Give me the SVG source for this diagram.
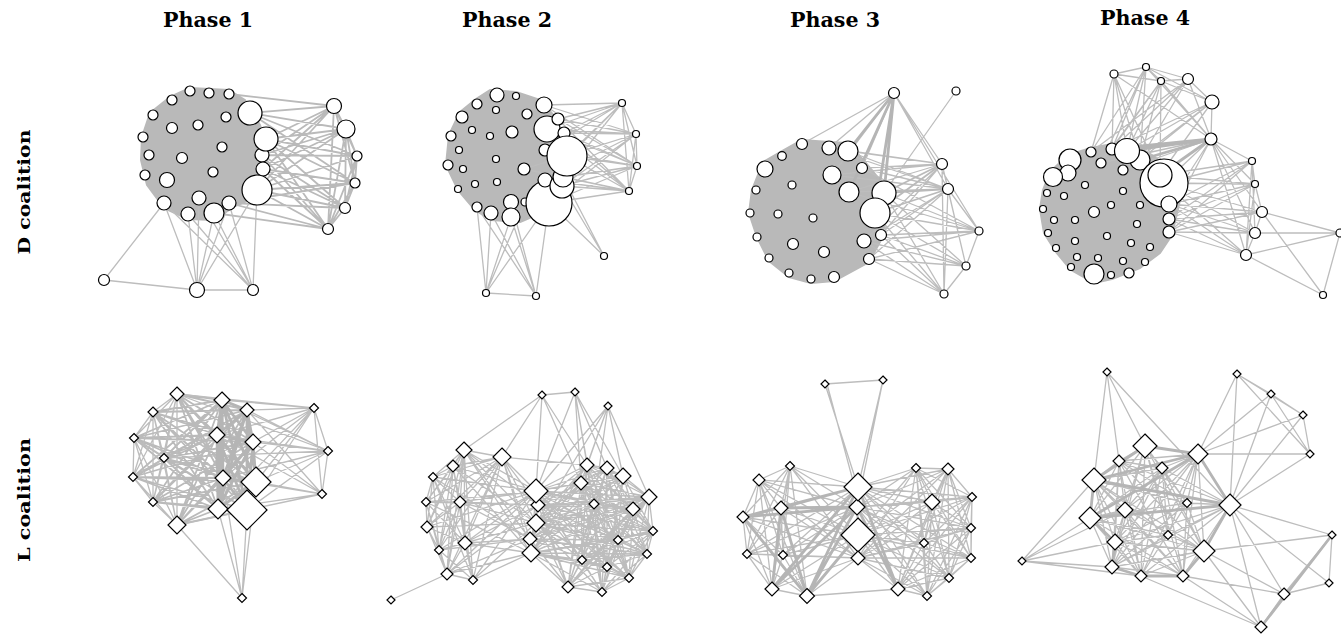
<svg xmlns="http://www.w3.org/2000/svg" width="1341" height="634" viewBox="0 0 1341 634">
<style>
.e{fill:none;stroke:#bdbdbd;stroke-width:1.3;stroke-linecap:round}
.m{fill:none;stroke:#bababa;stroke-width:1.8;stroke-linecap:round}
.t{fill:none;stroke:#b5b5b5;stroke-width:2.8;stroke-linecap:round}
.cl{fill:#b9b9b9;stroke:#b9b9b9;stroke-width:2;stroke-linejoin:round}
.n circle,.n polygon{fill:#fff;stroke:#000;stroke-width:1.2}
.h{font-family:"DejaVu Serif",serif;font-weight:bold;fill:#000}
</style>
<rect width="1341" height="634" fill="#fff"/>
<g id="labels">
<text class="h" x="208" y="27" font-size="20" text-anchor="middle" textLength="90" lengthAdjust="spacingAndGlyphs">Phase 1</text>
<text class="h" x="507" y="27" font-size="20" text-anchor="middle" textLength="90" lengthAdjust="spacingAndGlyphs">Phase 2</text>
<text class="h" x="835" y="27" font-size="20" text-anchor="middle" textLength="90" lengthAdjust="spacingAndGlyphs">Phase 3</text>
<text class="h" x="1145" y="25" font-size="20" text-anchor="middle" textLength="90" lengthAdjust="spacingAndGlyphs">Phase 4</text>
<text class="h" transform="translate(30 192) rotate(-90)" font-size="17" text-anchor="middle" textLength="125" lengthAdjust="spacingAndGlyphs">D coalition</text>
<text class="h" transform="translate(30 500) rotate(-90)" font-size="17" text-anchor="middle" textLength="124" lengthAdjust="spacingAndGlyphs">L coalition</text>
</g>
<g id="connectors">
<!-- D phase 1 -->
<polygon class="cl" points="190,88 229,90 245,100 260,125 268,150 266,172 262,195 235,206 214,220 188,219 164,208 147,185 141,160 142,137 150,113 170,97"/>
<path class="m" d="M250 113L334 106M250 113L346 129M250 113L357 156M250 113L355 183M266 139L334 106M266 139L346 129M266 139L357 156M266 139L355 183M266 139L345 208M266 139L328 229M262 155L334 106M262 155L346 129M262 155L357 156M262 155L345 208M262 155L328 229M263 169L334 106M263 169L346 129M263 169L355 183M263 169L345 208M263 169L328 229M257 190L334 106M257 190L346 129M257 190L357 156M257 190L355 183M257 190L345 208M257 190L328 229M229 203L345 208M229 203L328 229M229 203L355 183M214 213L328 229M229 94L334 106M334 106L346 129M334 106L357 156M334 106L355 183M334 106L328 229M346 129L357 156M346 129L355 183M346 129L345 208M346 129L328 229M357 156L355 183M357 156L345 208M357 156L328 229M355 183L345 208M355 183L328 229M345 208L328 229"/>
<path class="e" d="M104 280L164 203M104 280L197 290M197 290L253 290M197 290L164 203M197 290L188 214M197 290L199 198M197 290L214 213M197 290L229 203M197 290L257 190M253 290L164 203M253 290L188 214M253 290L214 213M253 290L229 203M253 290L257 190M253 290L199 198"/>
<!-- D phase 2 -->
<polygon class="cl" points="490,90 516,92 540,100 556,118 566,150 560,185 548,210 520,222 491,220 475,210 458,190 446,165 449,135 460,112 476,99"/>
<path class="e" d="M544 105L622 103M544 105L636 134M544 105L637 166M558 119L622 103M558 119L636 134M558 119L637 166M558 119L629 191M547 129L622 103M547 129L636 134M547 129L637 166M547 129L629 191M564 133L622 103M564 133L636 134M564 133L637 166M564 133L629 191M567 156L622 103M567 156L636 134M567 156L637 166M567 156L629 191M545 150L622 103M545 150L637 166M524 169L636 134M524 169L629 191M545 180L622 103M545 180L636 134M545 180L637 166M545 180L629 191M563 177L622 103M563 177L637 166M563 177L629 191M563 177L604 256M562 186L636 134M562 186L637 166M562 186L629 191M562 186L604 256M549 203L636 134M549 203L637 166M549 203L629 191M549 203L604 256M622 103L636 134M636 134L637 166M637 166L629 191M622 103L637 166M636 134L629 191M622 103L629 191M486 293L536 296M486 293L477 207M486 293L491 213M486 293L511 217M486 293L549 203M486 293L525 202M536 296L477 207M536 296L491 213M536 296L511 217M536 296L549 203M536 296L511 202"/>
<!-- D phase 3 -->
<polygon class="cl" points="802,140 829,142 848,143 865,162 884,185 888,213 881,240 869,262 834,281 811,283 789,277 769,261 757,237 749,213 752,190 763,162 782,151"/>
<path class="e" d="M894 93L802 144M894 93L829 148M894 93L862 168M894 93L832 175M894 93L942 164M894 93L948 189M894 93L979 231M956 91L884 193M848 151L942 164M848 151L948 189M862 168L942 164M862 168L948 189M862 168L979 231M832 175L942 164M832 175L948 189M849 192L942 164M849 192L948 189M849 192L979 231M884 193L979 231M884 193L966 266M884 193L944 294M875 213L979 231M875 213L966 266M875 213L944 294M881 235L942 164M881 235L948 189M881 235L979 231M881 235L966 266M881 235L944 294M864 241L942 164M864 241L948 189M864 241L979 231M864 241L966 266M864 241L944 294M869 259L948 189M869 259L979 231M869 259L966 266M869 259L944 294M829 148L942 164M829 148L948 189M942 164L948 189M942 164L944 294M948 189L979 231M948 189L966 266M979 231L966 266M966 266L944 294M948 189L944 294M942 164L966 266"/>
<path class="m" d="M884 193L942 164M884 193L948 189M875 213L942 164M875 213L948 189"/>
<path class="t" d="M894 93L848 151M894 93L849 192M894 93L875 213M894 93L884 193"/>
<!-- D phase 4 -->
<polygon class="cl" points="1091,148 1112,144 1135,145 1152,155 1172,170 1180,200 1172,235 1160,253 1140,268 1112,279 1094,283 1071,270 1056,252 1044,233 1040,209 1043,190 1050,172 1068,155"/>
<path class="e" d="M1114 74L1146 67M1114 74L1161 81M1146 67L1161 81M1146 67L1188 79M1161 81L1188 79M1188 79L1212 102M1146 67L1212 102M1161 81L1212 102M1114 74L1211 139M1146 67L1211 139M1161 81L1211 139M1188 79L1211 139M1212 102L1211 139M1114 74L1091 152M1114 74L1112 149M1114 74L1127 151M1114 74L1140 160M1114 74L1160 175M1146 67L1091 152M1146 67L1112 149M1146 67L1127 151M1146 67L1140 160M1146 67L1101 163M1161 81L1112 149M1161 81L1127 151M1161 81L1140 160M1161 81L1101 163M1161 81L1160 175M1188 79L1112 149M1188 79L1127 151M1188 79L1140 160M1188 79L1091 152M1212 102L1112 149M1212 102L1127 151M1212 102L1140 160M1212 102L1160 175M1212 102L1123 170M1211 139L1164 183M1211 139L1123 170M1211 139L1101 163M1211 139L1169 204M1211 139L1169 219M1164 183L1252 161M1164 183L1255 184M1164 183L1262 212M1164 183L1255 233M1164 183L1246 255M1169 204L1252 161M1169 204L1255 184M1169 204L1262 212M1169 204L1255 233M1169 204L1246 255M1169 219L1252 161M1169 219L1255 184M1169 219L1262 212M1169 219L1255 233M1169 219L1246 255M1169 232L1252 161M1169 232L1255 184M1169 232L1262 212M1169 232L1255 233M1169 232L1246 255M1211 139L1252 161M1211 139L1255 184M1211 139L1262 212M1211 139L1255 233M1211 139L1246 255M1160 175L1252 161M1160 175L1255 184M1252 161L1255 184M1255 184L1262 212M1262 212L1255 233M1255 233L1246 255M1252 161L1246 255M1255 184L1246 255M1252 161L1255 233M1262 212L1340 233M1255 233L1340 233M1246 255L1340 233M1340 233L1323 295M1262 212L1323 295M1246 255L1323 295"/>
<path class="t" d="M1211 139L1112 149M1211 139L1127 151M1211 139L1140 160M1211 139L1160 175"/>
<!-- L phase 1 -->
<path class="m" d="M177 394L222 400M177 394L247 410M177 394L217 435M177 394L253 442M177 394L223 478M177 394L256 482M177 394L218 509M177 394L247 510M153 412L222 400M153 412L247 410M153 412L217 435M153 412L253 442M153 412L223 478M153 412L256 482M153 412L218 509M153 412L247 510M134 438L222 400M134 438L247 410M134 438L217 435M134 438L253 442M134 438L223 478M134 438L256 482M134 438L218 509M134 438L247 510M164 458L222 400M164 458L247 410M164 458L217 435M164 458L253 442M164 458L223 478M164 458L256 482M164 458L218 509M164 458L247 510M133 477L222 400M133 477L247 410M133 477L217 435M133 477L253 442M133 477L223 478M133 477L256 482M133 477L218 509M133 477L247 510M153 502L222 400M153 502L247 410M153 502L217 435M153 502L253 442M153 502L223 478M153 502L256 482M153 502L218 509M153 502L247 510M177 525L222 400M177 525L247 410M177 525L217 435M177 525L253 442M177 525L223 478M177 525L256 482M177 525L218 509M177 525L247 510"/>
<path class="e" d="M177 394L153 412M153 412L134 438M134 438L133 477M133 477L153 502M153 502L177 525M177 394L134 438M177 394L164 458M177 394L133 477M177 394L153 502M177 394L177 525M153 412L164 458M153 412L133 477M153 412L153 502M153 412L177 525M134 438L164 458M134 438L153 502M134 438L177 525M164 458L133 477M164 458L153 502M164 458L177 525M133 477L177 525M314 408L177 394M314 408L222 400M314 408L247 410M314 408L217 435M314 408L253 442M314 408L328 451M314 408L223 478M314 408L256 482M314 408L322 494M314 408L218 509M314 408L247 510M328 451L222 400M328 451L247 410M328 451L217 435M328 451L253 442M328 451L164 458M328 451L223 478M328 451L256 482M328 451L322 494M328 451L247 510M328 451L177 394M322 494L247 410M322 494L253 442M322 494L223 478M322 494L256 482M322 494L218 509M322 494L247 510M322 494L177 525M322 494L217 435M242 598L177 525M242 598L218 509M242 598L247 510M242 598L256 482M242 598L223 478"/>
<path class="t" d="M222 400L247 410M222 400L217 435M222 400L253 442M222 400L223 478M222 400L256 482M222 400L218 509M222 400L247 510M247 410L217 435M247 410L253 442M247 410L223 478M247 410L256 482M247 410L218 509M247 410L247 510M217 435L253 442M217 435L223 478M217 435L256 482M217 435L218 509M217 435L247 510M253 442L223 478M253 442L256 482M253 442L218 509M253 442L247 510M223 478L256 482M223 478L218 509M223 478L247 510M256 482L218 509M256 482L247 510M218 509L247 510"/>
<!-- L phase 2 -->
<path class="e" d="M542 395L575 392M542 395L464 450M542 395L502 457M542 395L536 491M542 395L587 465M542 395L581 483M575 392L587 465M575 392L607 468M575 392L581 483M575 392L594 504M575 392L536 491M575 392L623 476M608 406L536 491M608 406L587 465M608 406L581 483M608 406L594 504M608 406L649 497M608 406L623 476M608 406L536 523
M464 450L502 457M464 450L453 466M464 450L433 477M464 450L426 502M464 450L460 502M464 450L427 527M464 450L465 543M464 450L439 550M464 450L447 574M464 450L473 580M464 450L536 491M464 450L538 505M464 450L536 523M464 450L530 539M464 450L531 553
M502 457L453 466M502 457L433 477M502 457L426 502M502 457L460 502M502 457L427 527M502 457L465 543M502 457L439 550M502 457L447 574M502 457L473 580M502 457L536 491M502 457L538 505M502 457L536 523M502 457L530 539M502 457L531 553M502 457L587 465
M453 466L433 477M453 466L426 502M453 466L460 502M453 466L427 527M453 466L465 543M453 466L439 550M453 466L447 574M453 466L536 491M453 466L536 523M453 466L531 553
M433 477L426 502M433 477L460 502M433 477L427 527M433 477L465 543M433 477L439 550M433 477L473 580M433 477L536 491M433 477L530 539
M426 502L460 502M426 502L427 527M426 502L465 543M426 502L439 550M426 502L447 574M426 502L536 491M426 502L538 505M426 502L531 553
M460 502L427 527M460 502L465 543M460 502L439 550M460 502L447 574M460 502L473 580M460 502L536 491M460 502L538 505M460 502L536 523M460 502L530 539
M427 527L465 543M427 527L439 550M427 527L447 574M427 527L536 523M427 527L536 491
M465 543L439 550M465 543L447 574M465 543L473 580M465 543L536 491M465 543L538 505M465 543L536 523M465 543L530 539M465 543L531 553
M439 550L447 574M439 550L473 580M439 550L536 491M439 550L530 539
M447 574L473 580M447 574L536 491M447 574L538 505M447 574L530 539M447 574L531 553M447 574L391 600
M473 580L536 491M473 580L536 523M473 580L531 553
M587 465L607 468M587 465L623 476M587 465L581 483M587 465L649 497M587 465L594 504M587 465L633 509M587 465L536 491M587 465L538 505M587 465L536 523M587 465L530 539M587 465L531 553M587 465L653 531M587 465L618 540M587 465L647 554M587 465L582 560M587 465L607 567M587 465L629 578M587 465L568 587M587 465L602 592
M607 468L623 476M607 468L581 483M607 468L649 497M607 468L594 504M607 468L633 509M607 468L536 491M607 468L538 505M607 468L536 523M607 468L531 553M607 468L653 531M607 468L618 540M607 468L647 554M607 468L582 560M607 468L607 567M607 468L629 578M607 468L568 587M607 468L602 592
M623 476L581 483M623 476L649 497M623 476L594 504M623 476L633 509M623 476L536 491M623 476L538 505M623 476L536 523M623 476L530 539M623 476L653 531M623 476L618 540M623 476L647 554M623 476L582 560M623 476L607 567M623 476L568 587M623 476L602 592
M581 483L649 497M581 483L594 504M581 483L633 509M581 483L536 491M581 483L538 505M581 483L536 523M581 483L530 539M581 483L531 553M581 483L653 531M581 483L618 540M581 483L647 554M581 483L582 560M581 483L607 567M581 483L629 578M581 483L568 587M581 483L602 592
M649 497L594 504M649 497L633 509M649 497L536 491M649 497L538 505M649 497L536 523M649 497L530 539M649 497L531 553M649 497L653 531M649 497L618 540M649 497L647 554M649 497L582 560M649 497L607 567M649 497L629 578M649 497L568 587
M594 504L633 509M594 504L536 491M594 504L538 505M594 504L536 523M594 504L530 539M594 504L531 553M594 504L653 531M594 504L618 540M594 504L647 554M594 504L582 560M594 504L607 567M594 504L629 578M594 504L568 587M594 504L602 592
M633 509L536 491M633 509L538 505M633 509L536 523M633 509L530 539M633 509L531 553M633 509L653 531M633 509L618 540M633 509L647 554M633 509L582 560M633 509L607 567M633 509L629 578M633 509L568 587M633 509L602 592
M653 531L536 491M653 531L538 505M653 531L536 523M653 531L531 553M653 531L618 540M653 531L647 554M653 531L582 560M653 531L607 567M653 531L629 578M653 531L602 592
M618 540L536 491M618 540L538 505M618 540L536 523M618 540L530 539M618 540L531 553M618 540L647 554M618 540L582 560M618 540L607 567M618 540L629 578M618 540L568 587M618 540L602 592
M647 554L536 491M647 554L538 505M647 554L536 523M647 554L530 539M647 554L531 553M647 554L582 560M647 554L607 567M647 554L629 578M647 554L602 592
M582 560L536 491M582 560L538 505M582 560L536 523M582 560L531 553M582 560L607 567M582 560L629 578M582 560L568 587M582 560L602 592
M607 567L536 491M607 567L536 523M607 567L530 539M607 567L531 553M607 567L629 578M607 567L568 587M607 567L602 592
M629 578L536 491M629 578L538 505M629 578L536 523M629 578L531 553M629 578L568 587M629 578L602 592
M568 587L536 491M568 587L538 505M568 587L536 523M568 587L530 539M568 587L531 553M568 587L602 592
M602 592L536 491M602 592L536 523M602 592L531 553
M536 491L538 505M538 505L536 523M536 523L530 539M530 539L531 553M536 491L536 523M536 491L531 553M538 505L531 553"/>
<!-- L phase 3 -->
<path class="e" d="M825 384L883 380M825 384L858 487M827 384L860 507M883 380L858 487M883 380L857 507
M790 466L759 480M790 466L781 508M790 466L743 517M790 466L747 554M790 466L783 555M790 466L772 589M790 466L807 596M790 466L858 487M790 466L857 507M790 466L858 535M790 466L858 558
M759 480L781 508M759 480L743 517M759 480L747 554M759 480L783 555M759 480L772 589M759 480L807 596M759 480L858 487M759 480L857 507M759 480L858 535M759 480L858 558
M781 508L743 517M781 508L747 554M781 508L783 555M781 508L858 535M781 508L858 558
M743 517L747 554M743 517L783 555M743 517L772 589M743 517L858 535M743 517L858 558
M747 554L783 555M747 554L772 589M747 554L807 596M747 554L858 487M747 554L857 507M747 554L858 535M747 554L858 558
M783 555L772 589M783 555L807 596M783 555L858 487M783 555L857 507M783 555L858 535M783 555L858 558
M772 589L807 596M772 589L858 535M772 589L858 558
M807 596L858 558M807 596L898 589
M916 468L948 469M916 468L972 497M916 468L932 502M916 468L971 528M916 468L924 543M916 468L971 558M916 468L949 578M916 468L898 589M916 468L927 596M916 468L858 487M916 468L857 507M916 468L858 535M916 468L858 558
M948 469L972 497M948 469L932 502M948 469L971 528M948 469L924 543M948 469L971 558M948 469L949 578M948 469L898 589M948 469L927 596M948 469L858 487M948 469L857 507M948 469L858 535M948 469L858 558
M972 497L932 502M972 497L971 528M972 497L924 543M972 497L971 558M972 497L949 578M972 497L898 589M972 497L927 596M972 497L858 487M972 497L857 507M972 497L858 535M972 497L858 558
M932 502L971 528M932 502L924 543M932 502L971 558M932 502L949 578M932 502L898 589M932 502L927 596M932 502L858 487M932 502L857 507M932 502L858 535M932 502L858 558
M971 528L924 543M971 528L971 558M971 528L949 578M971 528L898 589M971 528L927 596M971 528L858 487M971 528L857 507M971 528L858 535M971 528L858 558
M924 543L971 558M924 543L949 578M924 543L898 589M924 543L927 596M924 543L858 487M924 543L857 507M924 543L858 535M924 543L858 558
M971 558L949 578M971 558L898 589M971 558L927 596M971 558L858 487M971 558L857 507M971 558L858 535M971 558L858 558
M949 578L898 589M949 578L927 596M949 578L858 487M949 578L857 507M949 578L858 535M949 578L858 558
M898 589L927 596M898 589L858 535M898 589L858 558
M927 596L858 487M927 596L857 507M927 596L858 535M927 596L858 558
M858 487L857 507M857 507L858 535M858 535L858 558M858 487L858 535M857 507L858 558"/>
<path class="t" d="M743 517L858 487M743 517L857 507M781 508L858 487M781 508L857 507M772 589L858 487M772 589L857 507M807 596L858 487M807 596L857 507M807 596L858 535M781 508L807 596M743 517L807 596M781 508L772 589M898 589L857 507M898 589L858 487"/>
<!-- L phase 4 -->
<path class="e" d="M1107 372L1094 480M1107 372L1119 461M1107 372L1145 446M1107 372L1230 505M1237 374L1271 394M1237 374L1198 454M1237 374L1230 505M1237 374L1303 415M1237 374L1310 454M1271 394L1303 415M1271 394L1310 454M1271 394L1198 454M1271 394L1230 505M1303 415L1310 454M1303 415L1198 454M1303 415L1230 505M1310 454L1198 454M1310 454L1230 505
M1230 505L1119 461M1230 505L1162 468M1230 505L1187 503M1230 505L1168 535M1230 505L1115 542M1230 505L1112 567M1230 505L1141 576M1230 505L1183 576
M1145 446L1119 461M1145 446L1162 468M1145 446L1187 503M1145 446L1125 510M1145 446L1090 518M1145 446L1168 535M1145 446L1115 542M1145 446L1204 551M1145 446L1112 567M1145 446L1141 576M1145 446L1183 576
M1198 454L1119 461M1198 454L1162 468M1198 454L1187 503M1198 454L1125 510M1198 454L1168 535M1198 454L1115 542M1198 454L1204 551M1198 454L1112 567M1198 454L1141 576M1198 454L1183 576
M1094 480L1119 461M1094 480L1162 468M1094 480L1187 503M1094 480L1125 510M1094 480L1168 535M1094 480L1115 542M1094 480L1204 551M1094 480L1112 567M1094 480L1141 576M1094 480L1183 576
M1090 518L1119 461M1090 518L1162 468M1090 518L1187 503M1090 518L1125 510M1090 518L1168 535M1090 518L1204 551M1090 518L1112 567M1090 518L1141 576M1090 518L1183 576
M1115 542L1119 461M1115 542L1162 468M1115 542L1187 503M1115 542L1125 510M1115 542L1168 535M1115 542L1204 551M1115 542L1141 576M1115 542L1183 576
M1112 567L1119 461M1112 567L1162 468M1112 567L1187 503M1112 567L1125 510M1112 567L1168 535M1112 567L1204 551M1112 567L1183 576
M1141 576L1119 461M1141 576L1162 468M1141 576L1187 503M1141 576L1125 510M1141 576L1204 551
M1183 576L1119 461M1183 576L1162 468M1183 576L1187 503M1183 576L1125 510
M1204 551L1119 461M1204 551L1162 468M1204 551L1187 503M1204 551L1125 510M1204 551L1168 535
M1119 461L1162 468M1119 461L1187 503M1119 461L1125 510M1162 468L1187 503M1162 468L1125 510M1162 468L1168 535
M1022 561L1094 480M1022 561L1090 518M1022 561L1115 542M1022 561L1112 567M1022 561L1141 576M1022 561L1125 510
M1230 505L1332 535M1230 505L1329 583M1230 505L1284 594M1230 505L1261 627M1204 551L1284 594M1204 551L1261 627M1204 551L1332 535M1183 576L1284 594M1183 576L1261 627M1141 576L1261 627M1332 535L1329 583M1332 535L1284 594M1329 583L1284 594M1284 594L1261 627"/>
<path class="t" d="M1094 480L1090 518M1090 518L1115 542M1115 542L1112 567M1094 480L1145 446M1145 446L1198 454M1094 480L1198 454M1090 518L1198 454M1090 518L1230 505M1094 480L1230 505M1112 567L1141 576M1141 576L1183 576M1183 576L1204 551M1204 551L1230 505M1198 454L1230 505M1332 535L1261 627"/>
</g>
<g id="nodes" class="n">
<g id="d1-1"><circle cx="190" cy="91" r="5"/></g>
<g id="d1-2"><circle cx="209" cy="93" r="5"/></g>
<g id="d1-3"><circle cx="229" cy="94" r="5"/></g>
<g id="d1-4"><circle cx="172" cy="100" r="5"/></g>
<g id="d1-5"><circle cx="153" cy="115" r="5"/></g>
<g id="d1-7"><circle cx="226" cy="117" r="5"/></g>
<g id="d1-8"><circle cx="198" cy="125" r="5"/></g>
<g id="d1-9"><circle cx="172" cy="128" r="5.5"/></g>
<g id="d1-10"><circle cx="143" cy="137" r="5"/></g>
<g id="d1-12"><circle cx="222" cy="147" r="5"/></g>
<g id="d1-13"><circle cx="149" cy="155" r="5"/></g>
<g id="d1-14"><circle cx="182" cy="158" r="5.5"/></g>
<g id="d1-16"><circle cx="213" cy="172" r="5"/></g>
<g id="d1-18"><circle cx="145" cy="175" r="5"/></g>
<g id="d1-19"><circle cx="167" cy="180" r="7.5"/></g>
<g id="d1-21"><circle cx="199" cy="198" r="7"/></g>
<g id="d1-22"><circle cx="164" cy="203" r="7"/></g>
<g id="d1-23"><circle cx="229" cy="203" r="7"/></g>
<g id="d1-24"><circle cx="188" cy="214" r="7"/></g>
<g id="d1-25"><circle cx="214" cy="213" r="10"/></g>
<g id="d1-15"><circle cx="262" cy="155" r="7"/></g>
<g id="d1-17"><circle cx="263" cy="169" r="7"/></g>
<g id="d1-6"><circle cx="250" cy="113" r="12"/></g>
<g id="d1-11"><circle cx="266" cy="139" r="12"/></g>
<g id="d1-20"><circle cx="257" cy="190" r="15"/></g>
<g id="d1-r1"><circle cx="334" cy="106" r="7.5"/></g>
<g id="d1-r2"><circle cx="346" cy="129" r="9"/></g>
<g id="d1-r3"><circle cx="357" cy="156" r="5"/></g>
<g id="d1-r4"><circle cx="355" cy="183" r="5"/></g>
<g id="d1-r5"><circle cx="345" cy="208" r="5.5"/></g>
<g id="d1-r6"><circle cx="328" cy="229" r="5.5"/></g>
<g id="d1-b1"><circle cx="104" cy="280" r="5.5"/></g>
<g id="d1-b2"><circle cx="197" cy="290" r="7.5"/></g>
<g id="d1-b3"><circle cx="253" cy="290" r="5.5"/></g>

<g id="d2-1"><circle cx="497" cy="95" r="7"/></g>
<g id="d2-2"><circle cx="516" cy="96" r="3.5"/></g>
<g id="d2-3"><circle cx="477" cy="104" r="5"/></g>
<g id="d2-4"><circle cx="544" cy="105" r="8"/></g>
<g id="d2-5"><circle cx="496" cy="110" r="3.5"/></g>
<g id="d2-6"><circle cx="462" cy="117" r="6"/></g>
<g id="d2-7"><circle cx="527" cy="114" r="5"/></g>
<g id="d2-9"><circle cx="472" cy="130" r="3.5"/></g>
<g id="d2-10"><circle cx="512" cy="132" r="6"/></g>
<g id="d2-12"><circle cx="490" cy="136" r="3.5"/></g>
<g id="d2-13"><circle cx="451" cy="136" r="5"/></g>
<g id="d2-16"><circle cx="459" cy="150" r="3.5"/></g>
<g id="d2-18"><circle cx="496" cy="159" r="3.5"/></g>
<g id="d2-19"><circle cx="448" cy="165" r="5"/></g>
<g id="d2-20"><circle cx="463" cy="169" r="3.5"/></g>
<g id="d2-21"><circle cx="524" cy="169" r="6"/></g>
<g id="d2-25"><circle cx="475" cy="184" r="3.5"/></g>
<g id="d2-26"><circle cx="497" cy="182" r="3.5"/></g>
<g id="d2-27"><circle cx="458" cy="189" r="3.5"/></g>
<g id="d2-31"><circle cx="477" cy="207" r="5"/></g>
<g id="d2-32"><circle cx="491" cy="213" r="7"/></g>
<g id="d2-29"><circle cx="525" cy="202" r="4"/></g>
<g id="d2-15"><circle cx="545" cy="150" r="6"/></g>
<g id="d2-11"><circle cx="547" cy="129" r="13"/></g>
<g id="d2-8"><circle cx="558" cy="119" r="6"/></g>
<g id="d2-14"><circle cx="564" cy="133" r="6"/></g>
<g id="d2-30"><circle cx="549" cy="203" r="23"/></g>
<g id="d2-22"><circle cx="545" cy="180" r="7"/></g>
<g id="d2-24"><circle cx="562" cy="186" r="12"/></g>
<g id="d2-23"><circle cx="563" cy="177" r="10"/></g>
<g id="d2-17"><circle cx="567" cy="156" r="20"/></g>
<g id="d2-28"><circle cx="511" cy="202" r="7.5"/></g>
<g id="d2-33"><circle cx="511" cy="217" r="9"/></g>
<g id="d2-p1"><circle cx="622" cy="103" r="3.5"/></g>
<g id="d2-p2"><circle cx="636" cy="134" r="3.5"/></g>
<g id="d2-p3"><circle cx="637" cy="166" r="3.5"/></g>
<g id="d2-p4"><circle cx="629" cy="191" r="3.5"/></g>
<g id="d2-p5"><circle cx="604" cy="256" r="3.5"/></g>
<g id="d2-b1"><circle cx="486" cy="293" r="3.5"/></g>
<g id="d2-b2"><circle cx="536" cy="296" r="3.5"/></g>

<g id="d3-1"><circle cx="894" cy="93" r="5.5"/></g>
<g id="d3-2"><circle cx="956" cy="91" r="4"/></g>
<g id="d3-3"><circle cx="802" cy="144" r="5.5"/></g>
<g id="d3-4"><circle cx="829" cy="148" r="7"/></g>
<g id="d3-5"><circle cx="848" cy="151" r="10"/></g>
<g id="d3-6"><circle cx="782" cy="156" r="4.3"/></g>
<g id="d3-7"><circle cx="765" cy="169" r="8"/></g>
<g id="d3-8"><circle cx="862" cy="168" r="5.5"/></g>
<g id="d3-9"><circle cx="832" cy="175" r="9"/></g>
<g id="d3-10"><circle cx="942" cy="164" r="5.5"/></g>
<g id="d3-11"><circle cx="792" cy="185" r="4"/></g>
<g id="d3-12"><circle cx="756" cy="190" r="4"/></g>
<g id="d3-13"><circle cx="849" cy="192" r="10"/></g>
<g id="d3-14"><circle cx="884" cy="193" r="12"/></g>
<g id="d3-15"><circle cx="948" cy="189" r="5.5"/></g>
<g id="d3-16"><circle cx="875" cy="213" r="15"/></g>
<g id="d3-17"><circle cx="750" cy="213" r="4"/></g>
<g id="d3-18"><circle cx="778" cy="214" r="4"/></g>
<g id="d3-19"><circle cx="813" cy="218" r="4"/></g>
<g id="d3-20"><circle cx="881" cy="235" r="5.5"/></g>
<g id="d3-21"><circle cx="979" cy="231" r="4"/></g>
<g id="d3-22"><circle cx="757" cy="237" r="4"/></g>
<g id="d3-23"><circle cx="864" cy="241" r="7"/></g>
<g id="d3-24"><circle cx="793" cy="244" r="5.5"/></g>
<g id="d3-25"><circle cx="824" cy="252" r="5.5"/></g>
<g id="d3-26"><circle cx="869" cy="259" r="5.5"/></g>
<g id="d3-27"><circle cx="769" cy="258" r="4"/></g>
<g id="d3-28"><circle cx="966" cy="266" r="4"/></g>
<g id="d3-29"><circle cx="789" cy="273" r="4"/></g>
<g id="d3-30"><circle cx="811" cy="279" r="4"/></g>
<g id="d3-31"><circle cx="834" cy="277" r="5.5"/></g>
<g id="d3-32"><circle cx="944" cy="294" r="4"/></g>

<g id="d4-1"><circle cx="1114" cy="74" r="4"/></g>
<g id="d4-2"><circle cx="1146" cy="67" r="3.5"/></g>
<g id="d4-3"><circle cx="1161" cy="81" r="3.5"/></g>
<g id="d4-4"><circle cx="1188" cy="79" r="5.5"/></g>
<g id="d4-5"><circle cx="1212" cy="102" r="7"/></g>
<g id="d4-6"><circle cx="1211" cy="139" r="6"/></g>
<g id="d4-7"><circle cx="1091" cy="152" r="5"/></g>
<g id="d4-8"><circle cx="1112" cy="149" r="6"/></g>
<g id="d4-9"><circle cx="1140" cy="160" r="10"/></g>
<g id="d4-10"><circle cx="1127" cy="151" r="12.5"/></g>
<g id="d4-11"><circle cx="1070" cy="160" r="11"/></g>
<g id="d4-12"><circle cx="1101" cy="163" r="5"/></g>
<g id="d4-13"><circle cx="1068" cy="173" r="8"/></g>
<g id="d4-14"><circle cx="1053" cy="177" r="9.5"/></g>
<g id="d4-15"><circle cx="1123" cy="170" r="5"/></g>
<g id="d4-16"><circle cx="1164" cy="183" r="24"/></g>
<g id="d4-17"><circle cx="1160" cy="175" r="12"/></g>
<g id="d4-18"><circle cx="1085" cy="185" r="3.5"/></g>
<g id="d4-19"><circle cx="1047" cy="193" r="3.5"/></g>
<g id="d4-20"><circle cx="1064" cy="196" r="3.5"/></g>
<g id="d4-21"><circle cx="1123" cy="191" r="3.5"/></g>
<g id="d4-22"><circle cx="1111" cy="205" r="3.5"/></g>
<g id="d4-23"><circle cx="1140" cy="205" r="3.5"/></g>
<g id="d4-24"><circle cx="1169" cy="204" r="8"/></g>
<g id="d4-25"><circle cx="1043" cy="209" r="3.5"/></g>
<g id="d4-26"><circle cx="1094" cy="212" r="5.5"/></g>
<g id="d4-27"><circle cx="1054" cy="220" r="3.5"/></g>
<g id="d4-28"><circle cx="1075" cy="220" r="3.5"/></g>
<g id="d4-29"><circle cx="1137" cy="224" r="3.5"/></g>
<g id="d4-30"><circle cx="1169" cy="219" r="6"/></g>
<g id="d4-31"><circle cx="1048" cy="233" r="3.5"/></g>
<g id="d4-32"><circle cx="1107" cy="236" r="3.5"/></g>
<g id="d4-33"><circle cx="1169" cy="232" r="6"/></g>
<g id="d4-34"><circle cx="1075" cy="241" r="3.5"/></g>
<g id="d4-35"><circle cx="1131" cy="243" r="3.5"/></g>
<g id="d4-36"><circle cx="1056" cy="248" r="3.5"/></g>
<g id="d4-37"><circle cx="1150" cy="247" r="3.5"/></g>
<g id="d4-38"><circle cx="1077" cy="257" r="3.5"/></g>
<g id="d4-39"><circle cx="1098" cy="258" r="3.5"/></g>
<g id="d4-40"><circle cx="1123" cy="261" r="3.5"/></g>
<g id="d4-41"><circle cx="1145" cy="262" r="3.5"/></g>
<g id="d4-42"><circle cx="1071" cy="267" r="3.5"/></g>
<g id="d4-43"><circle cx="1094" cy="274" r="10"/></g>
<g id="d4-44"><circle cx="1111" cy="275" r="3.5"/></g>
<g id="d4-45"><circle cx="1129" cy="273" r="5"/></g>
<g id="d4-v1"><circle cx="1252" cy="161" r="3.5"/></g>
<g id="d4-v2"><circle cx="1255" cy="184" r="3.5"/></g>
<g id="d4-v3"><circle cx="1262" cy="212" r="5.5"/></g>
<g id="d4-v4"><circle cx="1255" cy="233" r="5.5"/></g>
<g id="d4-v5"><circle cx="1246" cy="255" r="5.5"/></g>
<g id="d4-v6"><circle cx="1340" cy="233" r="4"/></g>
<g id="d4-v7"><circle cx="1323" cy="295" r="3.5"/></g>

<g id="l1-1"><polygon points="177,387 184,394 177,401 170,394"/></g>
<g id="l1-2"><polygon points="222,392 230,400 222,408 214,400"/></g>
<g id="l1-3"><polygon points="247,403 254,410 247,417 240,410"/></g>
<g id="l1-4"><polygon points="153,407 158,412 153,417 148,412"/></g>
<g id="l1-5"><polygon points="314,403.5 318.5,408 314,412.5 309.5,408"/></g>
<g id="l1-6"><polygon points="217,427 225,435 217,443 209,435"/></g>
<g id="l1-7"><polygon points="253,434 261,442 253,450 245,442"/></g>
<g id="l1-8"><polygon points="134,433.5 138.5,438 134,442.5 129.5,438"/></g>
<g id="l1-9"><polygon points="328,446.5 332.5,451 328,455.5 323.5,451"/></g>
<g id="l1-10"><polygon points="164,453.5 168.5,458 164,462.5 159.5,458"/></g>
<g id="l1-11"><polygon points="223,470 231,478 223,486 215,478"/></g>
<g id="l1-12"><polygon points="256,467 271,482 256,497 241,482"/></g>
<g id="l1-13"><polygon points="133,472.5 137.5,477 133,481.5 128.5,477"/></g>
<g id="l1-14"><polygon points="322,489.5 326.5,494 322,498.5 317.5,494"/></g>
<g id="l1-15"><polygon points="153,497.5 157.5,502 153,506.5 148.5,502"/></g>
<g id="l1-16"><polygon points="218,499 228,509 218,519 208,509"/></g>
<g id="l1-17"><polygon points="247,490 267,510 247,530 227,510"/></g>
<g id="l1-18"><polygon points="177,516 186,525 177,534 168,525"/></g>
<g id="l1-19"><polygon points="242,593.5 246.5,598 242,602.5 237.5,598"/></g>

<g id="l2-1"><polygon points="542,391 546,395 542,399 538,395"/></g>
<g id="l2-2"><polygon points="575,388 579,392 575,396 571,392"/></g>
<g id="l2-3"><polygon points="608,402 612,406 608,410 604,406"/></g>
<g id="l2-4"><polygon points="464,442 472,450 464,458 456,450"/></g>
<g id="l2-5"><polygon points="502,448 511,457 502,466 493,457"/></g>
<g id="l2-6"><polygon points="453,460 459,466 453,472 447,466"/></g>
<g id="l2-7"><polygon points="433,472.5 437.5,477 433,481.5 428.5,477"/></g>
<g id="l2-8"><polygon points="587,458 594,465 587,472 580,465"/></g>
<g id="l2-9"><polygon points="607,461 614,468 607,475 600,468"/></g>
<g id="l2-10"><polygon points="623,468 631,476 623,484 615,476"/></g>
<g id="l2-12"><polygon points="581,476 588,483 581,490 574,483"/></g>
<g id="l2-13"><polygon points="649,489 657,497 649,505 641,497"/></g>
<g id="l2-14"><polygon points="426,497.5 430.5,502 426,506.5 421.5,502"/></g>
<g id="l2-15"><polygon points="460,496 466,502 460,508 454,502"/></g>
<g id="l2-16"><polygon points="538,498 545,505 538,512 531,505"/></g>
<g id="l2-11"><polygon points="536,479 548,491 536,503 524,491"/></g>
<g id="l2-17"><polygon points="594,499 599,504 594,509 589,504"/></g>
<g id="l2-18"><polygon points="633,502 640,509 633,516 626,509"/></g>
<g id="l2-19"><polygon points="427,521 433,527 427,533 421,527"/></g>
<g id="l2-20"><polygon points="536,514 545,523 536,532 527,523"/></g>
<g id="l2-21"><polygon points="653,526.5 657.5,531 653,535.5 648.5,531"/></g>
<g id="l2-22"><polygon points="465,536 472,543 465,550 458,543"/></g>
<g id="l2-23"><polygon points="530,532 537,539 530,546 523,539"/></g>
<g id="l2-24"><polygon points="618,535.5 622.5,540 618,544.5 613.5,540"/></g>
<g id="l2-25"><polygon points="439,545.5 443.5,550 439,554.5 434.5,550"/></g>
<g id="l2-26"><polygon points="531,544 540,553 531,562 522,553"/></g>
<g id="l2-27"><polygon points="647,549.5 651.5,554 647,558.5 642.5,554"/></g>
<g id="l2-28"><polygon points="582,555.5 586.5,560 582,564.5 577.5,560"/></g>
<g id="l2-29"><polygon points="607,562.5 611.5,567 607,571.5 602.5,567"/></g>
<g id="l2-30"><polygon points="447,568 453,574 447,580 441,574"/></g>
<g id="l2-31"><polygon points="473,575.5 477.5,580 473,584.5 468.5,580"/></g>
<g id="l2-32"><polygon points="629,573.5 633.5,578 629,582.5 624.5,578"/></g>
<g id="l2-33"><polygon points="568,581 574,587 568,593 562,587"/></g>
<g id="l2-34"><polygon points="602,587.5 606.5,592 602,596.5 597.5,592"/></g>
<g id="l2-35"><polygon points="391,596 395,600 391,604 387,600"/></g>

<g id="l3-1"><polygon points="825,380 829,384 825,388 821,384"/></g>
<g id="l3-2"><polygon points="883,376 887,380 883,384 879,380"/></g>
<g id="l3-3"><polygon points="790,461.5 794.5,466 790,470.5 785.5,466"/></g>
<g id="l3-4"><polygon points="916,463.5 920.5,468 916,472.5 911.5,468"/></g>
<g id="l3-5"><polygon points="948,463 954,469 948,475 942,469"/></g>
<g id="l3-6"><polygon points="759,474 765,480 759,486 753,480"/></g>
<g id="l3-8"><polygon points="972,492.5 976.5,497 972,501.5 967.5,497"/></g>
<g id="l3-9"><polygon points="932,494 940,502 932,510 924,502"/></g>
<g id="l3-10"><polygon points="781,501 788,508 781,515 774,508"/></g>
<g id="l3-11"><polygon points="857,499 865,507 857,515 849,507"/></g>
<g id="l3-7"><polygon points="858,473 872,487 858,501 844,487"/></g>
<g id="l3-12"><polygon points="743,511 749,517 743,523 737,517"/></g>
<g id="l3-13"><polygon points="971,523.5 975.5,528 971,532.5 966.5,528"/></g>
<g id="l3-14"><polygon points="858,518 875,535 858,552 841,535"/></g>
<g id="l3-15"><polygon points="924,538.5 928.5,543 924,547.5 919.5,543"/></g>
<g id="l3-16"><polygon points="747,549.5 751.5,554 747,558.5 742.5,554"/></g>
<g id="l3-17"><polygon points="783,550.5 787.5,555 783,559.5 778.5,555"/></g>
<g id="l3-18"><polygon points="858,551 865,558 858,565 851,558"/></g>
<g id="l3-19"><polygon points="971,553.5 975.5,558 971,562.5 966.5,558"/></g>
<g id="l3-20"><polygon points="949,573.5 953.5,578 949,582.5 944.5,578"/></g>
<g id="l3-21"><polygon points="772,582 779,589 772,596 765,589"/></g>
<g id="l3-22"><polygon points="807,588.5 814.5,596 807,603.5 799.5,596"/></g>
<g id="l3-23"><polygon points="898,582 905,589 898,596 891,589"/></g>
<g id="l3-24"><polygon points="927,591.5 931.5,596 927,600.5 922.5,596"/></g>

<g id="l4-1"><polygon points="1107,368 1111,372 1107,376 1103,372"/></g>
<g id="l4-2"><polygon points="1237,370 1241,374 1237,378 1233,374"/></g>
<g id="l4-3"><polygon points="1271,390 1275,394 1271,398 1267,394"/></g>
<g id="l4-4"><polygon points="1303,411 1307,415 1303,419 1299,415"/></g>
<g id="l4-5"><polygon points="1310,450 1314,454 1310,458 1306,454"/></g>
<g id="l4-6"><polygon points="1145,434 1157,446 1145,458 1133,446"/></g>
<g id="l4-7"><polygon points="1198,444 1208,454 1198,464 1188,454"/></g>
<g id="l4-8"><polygon points="1119,455 1125,461 1119,467 1113,461"/></g>
<g id="l4-9"><polygon points="1162,462 1168,468 1162,474 1156,468"/></g>
<g id="l4-10"><polygon points="1094,468 1106,480 1094,492 1082,480"/></g>
<g id="l4-11"><polygon points="1230,494 1241,505 1230,516 1219,505"/></g>
<g id="l4-12"><polygon points="1187,498.5 1191.5,503 1187,507.5 1182.5,503"/></g>
<g id="l4-13"><polygon points="1125,502 1133,510 1125,518 1117,510"/></g>
<g id="l4-14"><polygon points="1090,507 1101,518 1090,529 1079,518"/></g>
<g id="l4-15"><polygon points="1168,530.5 1172.5,535 1168,539.5 1163.5,535"/></g>
<g id="l4-16"><polygon points="1115,534 1123,542 1115,550 1107,542"/></g>
<g id="l4-17"><polygon points="1204,540 1215,551 1204,562 1193,551"/></g>
<g id="l4-18"><polygon points="1332,531 1336,535 1332,539 1328,535"/></g>
<g id="l4-19"><polygon points="1022,557 1026,561 1022,565 1018,561"/></g>
<g id="l4-20"><polygon points="1112,560 1119,567 1112,574 1105,567"/></g>
<g id="l4-21"><polygon points="1141,570 1147,576 1141,582 1135,576"/></g>
<g id="l4-22"><polygon points="1183,570 1189,576 1183,582 1177,576"/></g>
<g id="l4-23"><polygon points="1329,579 1333,583 1329,587 1325,583"/></g>
<g id="l4-24"><polygon points="1284,588 1290,594 1284,600 1278,594"/></g>
<g id="l4-25"><polygon points="1261,621 1267,627 1261,633 1255,627"/></g>
</g>
</svg>
